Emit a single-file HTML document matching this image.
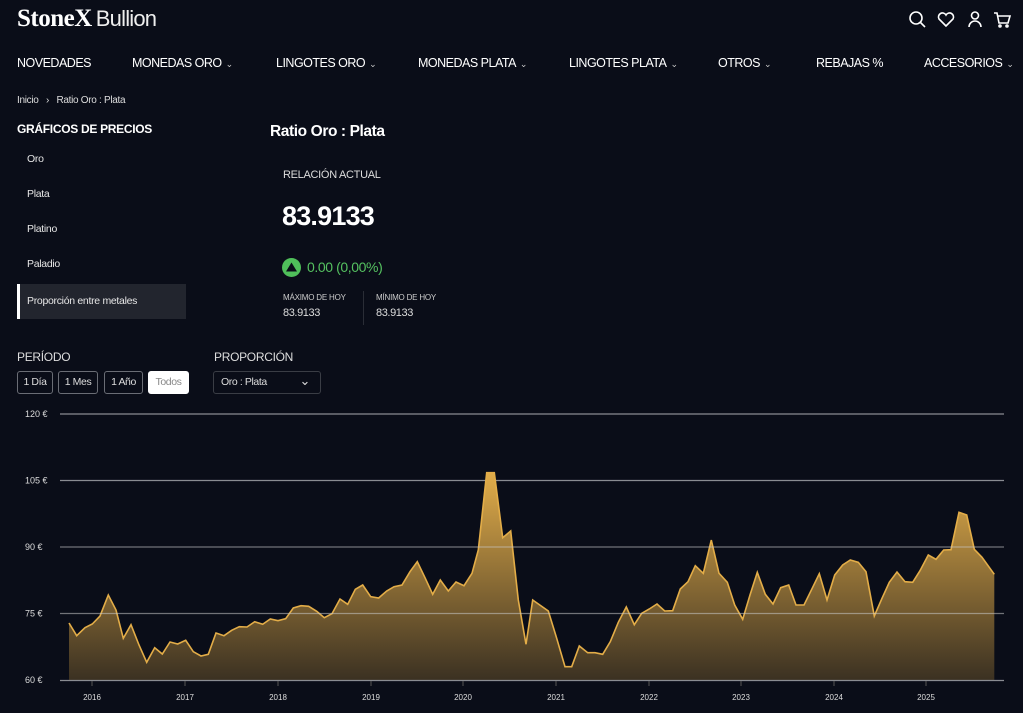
<!DOCTYPE html>
<html><head><meta charset="utf-8"><style>
*{margin:0;padding:0;box-sizing:border-box}
body{width:1023px;height:713px;background:#0a0d18;color:#fff;font-family:"Liberation Sans",sans-serif;position:relative;overflow:hidden}
.a{position:absolute;white-space:nowrap}
.nav{top:56px;font-size:12.5px;letter-spacing:-0.5px}
.nav small{font-size:9px;margin-left:4px;color:#ccc}
.sb{left:27px;font-size:10.5px;color:#e6e6e6;letter-spacing:-0.3px}
.btn{top:371px;height:23px;border:1px solid #6a6d75;border-radius:3px;font-size:10.5px;line-height:21px;text-align:center;color:#ddd;letter-spacing:-0.4px}
</style></head><body>
<div class="a" style="left:17px;top:5px;font-family:'Liberation Serif',serif;font-weight:bold;font-size:25px;letter-spacing:-0.5px">StoneX<span style="font-family:'Liberation Sans',sans-serif;font-weight:normal;font-size:22px;margin-left:4px;letter-spacing:-0.8px;color:#eee">Bullion</span></div>
<svg class="a" style="left:905px;top:8px" width="110" height="24" fill="none" stroke="#fff" stroke-width="1.6">
<circle cx="11" cy="10" r="6"/><line x1="15.5" y1="14.5" x2="20" y2="19"/>
<path d="M41 18 l-7-7 a3.8 3.8 0 0 1 7-4 a3.8 3.8 0 0 1 7 4z"/>
<circle cx="70" cy="7.5" r="3.5"/><path d="M64 19 a6 6 0 0 1 12 0"/>
<path d="M89 5 h3 l2 10 h9 l2-7 h-12"/><circle cx="95" cy="18" r="1"/><circle cx="102" cy="18" r="1"/>
</svg>
<div class="a nav" style="left:17px">NOVEDADES</div>
<div class="a nav" style="left:132px">MONEDAS ORO<small>⌄</small></div>
<div class="a nav" style="left:276px">LINGOTES ORO<small>⌄</small></div>
<div class="a nav" style="left:418px">MONEDAS PLATA<small>⌄</small></div>
<div class="a nav" style="left:569px">LINGOTES PLATA<small>⌄</small></div>
<div class="a nav" style="left:718px">OTROS<small>⌄</small></div>
<div class="a nav" style="left:816px">REBAJAS %</div>
<div class="a nav" style="left:924px">ACCESORIOS<small>⌄</small></div>
<div class="a" style="left:17px;top:95px;font-size:10px;color:#ddd;letter-spacing:-0.3px">Inicio &nbsp;&nbsp;›&nbsp;&nbsp; Ratio Oro : Plata</div>
<div class="a" style="left:17px;top:122px;font-size:12px;font-weight:bold;letter-spacing:-0.3px">GRÁFICOS DE PRECIOS</div>
<div class="a" style="left:270px;top:123px;font-size:15.5px;font-weight:bold;letter-spacing:-0.4px">Ratio Oro : Plata</div>
<div class="a sb" style="top:153px">Oro</div>
<div class="a sb" style="top:188px">Plata</div>
<div class="a sb" style="top:223px">Platino</div>
<div class="a sb" style="top:258px">Paladio</div>
<div class="a" style="left:17px;top:284px;width:169px;height:35px;background:#22252e;border-left:3px solid #fff"></div>
<div class="a sb" style="top:295px">Proporción entre metales</div>
<div class="a" style="left:283px;top:169px;font-size:11px;color:#ddd;letter-spacing:-0.3px">RELACIÓN ACTUAL</div>
<div class="a" style="left:282px;top:201px;font-size:27px;font-weight:bold;letter-spacing:-0.8px">83.9133</div>
<div class="a" style="left:282px;top:258px;width:19px;height:19px;border-radius:50%;background:#4fbf5a"></div>
<svg class="a" style="left:282px;top:258px" width="19" height="19"><polygon points="9.5,4.5 15,13.5 4,13.5" fill="#0a0d18"/></svg>
<div class="a" style="left:307px;top:259px;font-size:14px;color:#55c160;letter-spacing:-0.4px">0.00 (0,00%)</div>
<div class="a" style="left:283px;top:293px;font-size:8px;color:#ccc;letter-spacing:-0.2px">MÁXIMO DE HOY</div>
<div class="a" style="left:283px;top:307px;font-size:11px;color:#ddd;letter-spacing:-0.4px">83.9133</div>
<div class="a" style="left:363px;top:291px;width:1px;height:34px;background:#2a2d36"></div>
<div class="a" style="left:376px;top:293px;font-size:8px;color:#ccc;letter-spacing:-0.2px">MÍNIMO DE HOY</div>
<div class="a" style="left:376px;top:307px;font-size:11px;color:#ddd;letter-spacing:-0.4px">83.9133</div>
<div class="a" style="left:17px;top:350px;font-size:12px;color:#ddd;letter-spacing:-0.3px">PERÍODO</div>
<div class="a" style="left:214px;top:350px;font-size:12px;color:#ddd;letter-spacing:-0.3px">PROPORCIÓN</div>
<div class="a btn" style="left:17px;width:36px">1 Día</div>
<div class="a btn" style="left:58px;width:40px">1 Mes</div>
<div class="a btn" style="left:104px;width:39px">1 Año</div>
<div class="a btn" style="left:148px;width:41px;background:#fff;color:#888;border-color:#fff">Todos</div>
<div class="a" style="left:213px;top:371px;width:108px;height:23px;border:1px solid #3a3d45;border-radius:3px;font-size:10.5px;line-height:21px;color:#ddd;padding-left:7px;letter-spacing:-0.4px">Oro : Plata<span style="position:absolute;right:10px;top:-2px;font-size:13px">⌄</span></div>
<svg class="a" style="left:0;top:400px" width="1023" height="313">
<defs><linearGradient id="g2" gradientUnits="userSpaceOnUse" x1="0" y1="472" x2="0" y2="680"><stop offset="0" stop-color="#e2ad4a"/><stop offset="1" stop-color="#3b3122"/></linearGradient></defs>
<g font-size="9" fill="#ddd" font-family="Liberation Sans,sans-serif">
<text x="25" y="17">120 €</text><text x="25" y="83.5">105 €</text><text x="25" y="150">90 €</text><text x="25" y="216.5">75 €</text><text x="25" y="283">60 €</text>
</g>
<g stroke="#8a8c92" stroke-width="1.2"><line x1="60" y1="14" x2="1004" y2="14"/><line x1="60" y1="80.5" x2="1004" y2="80.5"/></g>
<g transform="translate(0,-400)">
<path id="p" d="M69,623 L76.7,635.7 85,627.7 92.3,624 100,616 108.3,595 116,610 123.3,638.3 131,624.7 139,645 146.7,662.3 154.7,647.7 162.3,654 170,642 177.7,644 185.7,640.3 193.3,651.7 201,656 208.3,654.3 216,633 224,635.7 231.7,630.3 239.3,626.7 247,627 254.7,621.7 262.7,624.3 270.3,619 278,620.7 285.7,618.7 293.3,608 301,605.7 308.7,606.3 316.7,611.3 324.3,617.7 332,613.7 340,599 347.7,604.3 355.3,589.3 362.7,585 370.7,596.7 378.7,598 386.7,591 394,586.7 402,585 410,571.7 417.3,561.7 425.3,578.3 432.7,594.3 440.3,580 448.3,591 456,582 464,585.7 472,573.3 478.3,550 486.7,472.7 494.3,472.7 502.7,537.7 510.7,531 518.3,600 526,644.3 532.7,600 548.3,611 556.7,638.3 565,666.7 571.7,666.7 579.3,646 587.7,652.7 595,652.7 602.7,654.3 610.3,641.7 618.3,622.3 626.3,607 634.3,624.7 641.7,613.3 649.3,609 657,604 664.7,611 672.7,610.7 680.3,589 688,581.7 695.3,565.7 703.3,573.3 711.3,540 719,573.3 727.3,582.3 734.7,605 742.7,619.3 750,595 757.3,572.3 765.3,594.3 773,604 780.7,587.7 788.7,585 796,605 804,605 811.7,589.3 819.3,573.7 827,600 834.7,575 842.7,565 850.3,560 858.3,562.3 866,571.7 874.3,616 882,598.3 889.3,582.3 897,572 905,581.7 912.7,582.3 920,570.7 928.3,555 936,559.3 943.7,550 951,549.7 959,512.3 966.7,515 974.3,549.3 982,557.3 994.3,574.3" fill="none"/>
<path d="M69,680 L69,623 L76.7,635.7 85,627.7 92.3,624 100,616 108.3,595 116,610 123.3,638.3 131,624.7 139,645 146.7,662.3 154.7,647.7 162.3,654 170,642 177.7,644 185.7,640.3 193.3,651.7 201,656 208.3,654.3 216,633 224,635.7 231.7,630.3 239.3,626.7 247,627 254.7,621.7 262.7,624.3 270.3,619 278,620.7 285.7,618.7 293.3,608 301,605.7 308.7,606.3 316.7,611.3 324.3,617.7 332,613.7 340,599 347.7,604.3 355.3,589.3 362.7,585 370.7,596.7 378.7,598 386.7,591 394,586.7 402,585 410,571.7 417.3,561.7 425.3,578.3 432.7,594.3 440.3,580 448.3,591 456,582 464,585.7 472,573.3 478.3,550 486.7,472.7 494.3,472.7 502.7,537.7 510.7,531 518.3,600 526,644.3 532.7,600 548.3,611 556.7,638.3 565,666.7 571.7,666.7 579.3,646 587.7,652.7 595,652.7 602.7,654.3 610.3,641.7 618.3,622.3 626.3,607 634.3,624.7 641.7,613.3 649.3,609 657,604 664.7,611 672.7,610.7 680.3,589 688,581.7 695.3,565.7 703.3,573.3 711.3,540 719,573.3 727.3,582.3 734.7,605 742.7,619.3 750,595 757.3,572.3 765.3,594.3 773,604 780.7,587.7 788.7,585 796,605 804,605 811.7,589.3 819.3,573.7 827,600 834.7,575 842.7,565 850.3,560 858.3,562.3 866,571.7 874.3,616 882,598.3 889.3,582.3 897,572 905,581.7 912.7,582.3 920,570.7 928.3,555 936,559.3 943.7,550 951,549.7 959,512.3 966.7,515 974.3,549.3 982,557.3 994.3,574.3 L994.3,680 Z" fill="url(#g2)"/>
<use href="#p" stroke="#e3ad48" stroke-width="1.6"/>
</g>
<g stroke="#c8c8c8" stroke-opacity="0.55" stroke-width="1.2"><line x1="60" y1="147" x2="1004" y2="147"/><line x1="60" y1="213.5" x2="1004" y2="213.5"/></g>
<line x1="60" y1="280.5" x2="1004" y2="280.5" stroke="#8a8c92" stroke-width="1.2"/>
<g stroke="#555" stroke-width="1"><line x1="92" y1="281" x2="92" y2="286"/><line x1="185" y1="281" x2="185" y2="286"/><line x1="278" y1="281" x2="278" y2="286"/><line x1="371" y1="281" x2="371" y2="286"/><line x1="463" y1="281" x2="463" y2="286"/><line x1="556" y1="281" x2="556" y2="286"/><line x1="649" y1="281" x2="649" y2="286"/><line x1="741" y1="281" x2="741" y2="286"/><line x1="834" y1="281" x2="834" y2="286"/><line x1="926" y1="281" x2="926" y2="286"/></g>
<g font-size="8" fill="#ddd" text-anchor="middle" font-family="Liberation Sans,sans-serif">
<text x="92" y="300">2016</text><text x="185" y="300">2017</text><text x="278" y="300">2018</text><text x="371" y="300">2019</text><text x="463" y="300">2020</text><text x="556" y="300">2021</text><text x="649" y="300">2022</text><text x="741" y="300">2023</text><text x="834" y="300">2024</text><text x="926" y="300">2025</text>
</g>
</svg>
</body></html>
